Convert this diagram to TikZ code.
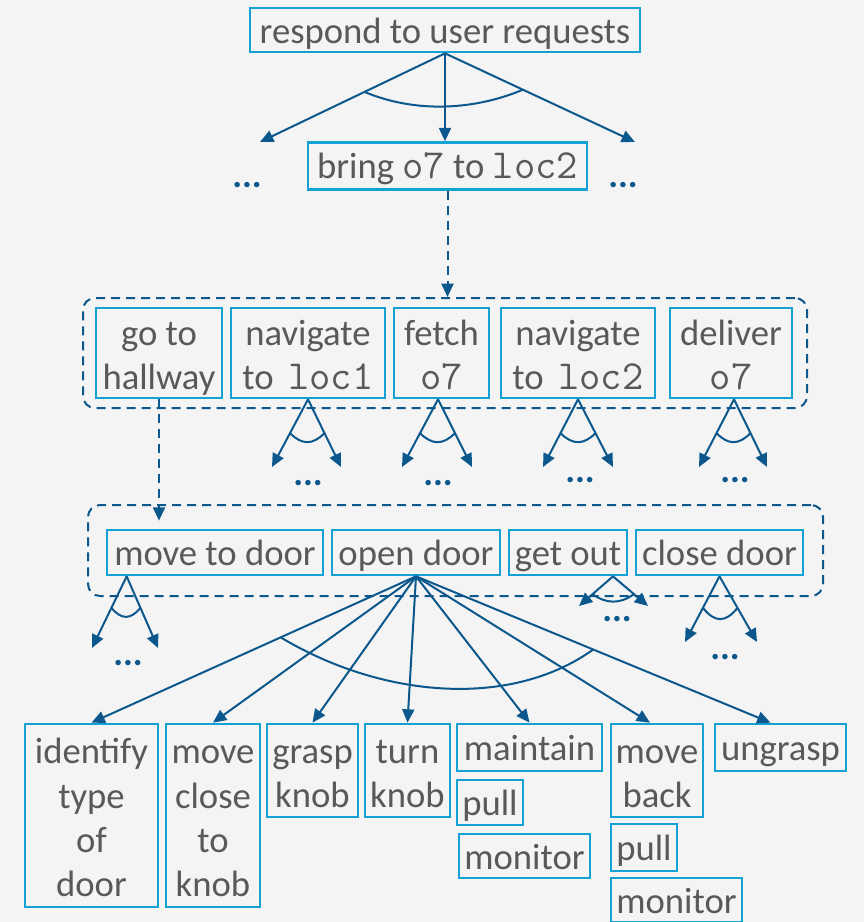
\documentclass[tikz,border=0pt]{standalone}
\usepackage{fontspec}
\setmainfont{Carlito}
\usetikzlibrary{arrows.meta}
\usetikzlibrary{calc}
\definecolor{boxblue}{RGB}{20,162,212}
\definecolor{linkblue}{RGB}{12,88,140}
\definecolor{txtgray}{RGB}{89,89,89}
\definecolor{bggray}{RGB}{244,244,244}
\newcommand{\tstrut}{\rule[-4.5pt]{0pt}{28.5pt}}
\newcommand{\hstrut}{\rule{0pt}{26.5pt}}
\newcommand{\code}[1]{{\fontsize{31}{33.2}\selectfont\ttfamily #1}}

\begin{document}
\begin{tikzpicture}[x=0.75pt,y=0.75pt,yscale=-1,xscale=1,
  task/.style={draw=boxblue, line width=2pt, inner sep=0pt, align=center, text=txtgray,
    font=\fontsize{27.5}{33.2}\selectfont, execute at begin node=\tstrut, execute at end node=\tstrut},
  group/.style={draw=linkblue, line width=1.5pt, dash pattern=on 6.75pt off 4.5pt, rounded corners=9pt, inner sep=0pt},
  link/.style={draw=linkblue, line width=1.5pt, -{Triangle[length=10pt,width=9pt]}},
  dlink/.style={link, dash pattern=on 6.75pt off 4.5pt},
  andarc/.style={draw=linkblue, line width=1.5pt},
  more/.style={text=linkblue, inner sep=0pt, font=\fontsize{27.5}{33.2}\selectfont\bfseries}]
\path[use as bounding box, fill=bggray] (0,0) rectangle (864,922);

%Shape: Rectangle [top]
\node[task, minimum width=292.5pt, minimum height=33pt] (resp) at (445,30) {respond to user requests};
\node[task, minimum width=209.25pt, minimum height=35.25pt] (bring) at (447.5,166) {bring \code{o7} to \code{loc2}};

%Shape: Rectangle [dashed groups]
\node[group, minimum width=543pt, minimum height=82.5pt] (grpA) at (445,353) {};
\node[group, minimum width=551.25pt, minimum height=68.25pt] (grpB) at (455.5,550.5) {};

%Shape: Rectangle [first method]
\node[task, minimum width=94.5pt, minimum height=67.5pt] (hall) at (159,353) {\hstrut go to\\hallway};
\node[task, minimum width=115.5pt, minimum height=67.5pt] (nav1) at (308,353) {\hstrut navigate\\to\hspace{0.4em}\code{loc1}};
\node[task, minimum width=71.25pt, minimum height=67.5pt] (fetch) at (441.5,353) {\hstrut fetch\\\code{o7}};
\node[task, minimum width=115.5pt, minimum height=67.5pt] (nav2) at (578,353) {\hstrut navigate\\to\hspace{0.4em}\code{loc2}};
\node[task, minimum width=91.5pt, minimum height=67.5pt] (deliv) at (731,353) {\hstrut deliver\\\code{o7}};

%Shape: Rectangle [second method]
\node[task, minimum width=162pt, minimum height=33.75pt] (mtd) at (215,552.5) {move to door};
\node[task, minimum width=126pt, minimum height=33.75pt] (opd) at (416,552.5) {open door};
\node[task, minimum width=88.5pt, minimum height=33.75pt] (gout) at (568,552.5) {get out};
\node[task, minimum width=125.25pt, minimum height=33.75pt] (cld) at (719.5,552.5) {close door};

%Shape: Rectangle [third method]
\node[task, minimum width=99.75pt, minimum height=137.25pt] (ident) at (91.5,815.5) {\hstrut identify\\type\\of\\door};
\node[task, minimum width=70.5pt, minimum height=137.25pt] (mclose) at (213,815.5) {\hstrut move\\close\\to\\knob};
\node[task, minimum width=68.25pt, minimum height=69.75pt] (grasp) at (312.5,770.5) {\hstrut grasp\\knob};
\node[task, minimum width=63.75pt, minimum height=69.75pt] (turn) at (407.5,770.5) {\hstrut turn\\knob};
\node[task, minimum width=108.75pt, minimum height=35.25pt] (maint) at (529.5,747.5) {maintain};
\node[task, minimum width=49.5pt, minimum height=33.75pt] (pullA) at (490,802.5) {pull};
\node[task, minimum width=98.25pt, minimum height=33pt] (monA) at (524.5,856) {monitor};
\node[task, minimum width=69pt, minimum height=69.75pt] (mback) at (657,770.5) {\hstrut move\\back};
\node[task, minimum width=49.5pt, minimum height=35.25pt] (pullB) at (644,847.5) {pull};
\node[task, minimum width=98.25pt, minimum height=33pt] (monB) at (676.5,900) {monitor};
\node[task, minimum width=98.25pt, minimum height=35.25pt] (ungr) at (780.5,747.5) {ungrasp};

% Text Node [more subtasks]
\node[more] (dTL) at (247,185) {...};
\node[more] (dTR) at (623,185) {...};
\node[more] (dN1) at (308,483) {...};
\node[more] (dF) at (438,483) {...};
\node[more] (dN2) at (580,480) {...};
\node[more] (dD) at (735,480) {...};
\node[more] (dM) at (128,663) {...};
\node[more] (dG) at (617,619) {...};
\node[more] (dC) at (725,657) {...};

%Straight Lines [top fan]
\coordinate (tL) at (260,142);
\coordinate (tR) at (635,142);
\draw[link] (resp.south) -- (tL);
\draw[link] (resp.south) -- (resp.south |- bring.north);
\draw[link] (resp.south) -- (tR);
%Curve Lines
\draw[andarc] ($(resp.south)!0.435!(tL)$) .. controls +(50,21) and +(-50,21) .. ($(resp.south)!0.41!(tR)$);

%Straight Lines [refinements]
\draw[dlink] (bring.south) -- (bring.south |- grpA.north);
\draw[dlink, shorten >=6pt] (hall.south) -- (hall.south |- mtd.north);

%Straight Lines [first method fans]
\coordinate (n1L) at (272,467);
\coordinate (n1R) at (341,467);
\draw[link] (nav1.south) -- (n1L);
\draw[link] (nav1.south) -- (n1R);
\draw[andarc] ($(nav1.south)!0.5!(n1L)$) .. controls +(12,12) and +(-12,12) .. ($(nav1.south)!0.5!(n1R)$);
\coordinate (fL) at (402,467);
\coordinate (fR) at (472,467);
\draw[link] ([xshift=-2.6pt]fetch.south) -- (fL);
\draw[link] ([xshift=-2.6pt]fetch.south) -- (fR);
\draw[andarc] ($([xshift=-2.6pt]fetch.south)!0.5!(fL)$) .. controls +(12,12) and +(-12,12) .. ($([xshift=-2.6pt]fetch.south)!0.5!(fR)$);
\coordinate (n2L) at (543,467);
\coordinate (n2R) at (613,467);
\draw[link] (nav2.south) -- (n2L);
\draw[link] (nav2.south) -- (n2R);
\draw[andarc] ($(nav2.south)!0.5!(n2L)$) .. controls +(12,12) and +(-12,12) .. ($(nav2.south)!0.5!(n2R)$);
\coordinate (dlL) at (699,467);
\coordinate (dlR) at (767,467);
\draw[link] ([xshift=2.25pt]deliv.south) -- (dlL);
\draw[link] ([xshift=2.25pt]deliv.south) -- (dlR);
\draw[andarc] ($([xshift=2.25pt]deliv.south)!0.5!(dlL)$) .. controls +(12,12) and +(-12,12) .. ($([xshift=2.25pt]deliv.south)!0.5!(dlR)$);

%Straight Lines [second method fans]
\coordinate (mO) at ([xshift=15.75pt]mtd.south west);
\coordinate (mL) at (92,648);
\coordinate (mR) at (158,648);
\draw[link] (mO) -- (mL);
\draw[link] (mO) -- (mR);
\draw[andarc] ($(mO)!0.44!(mL)$) .. controls +(10,12) and +(-10,12) .. ($(mO)!0.44!(mR)$);
\coordinate (gO) at ([xshift=33.75pt]gout.south);
\coordinate (gL) at (579,606);
\coordinate (gR) at (648,606);
\draw[link] (gO) -- (gL);
\draw[link] (gO) -- (gR);
\draw[andarc] ($(gO)!0.6!(gL)$) .. controls +(14,10) and +(-14,10) .. ($(gO)!0.6!(gR)$);
\coordinate (cL) at (685,642);
\coordinate (cR) at (757,642);
\draw[link] (cld.south) -- (cL);
\draw[link] (cld.south) -- (cR);
\draw[andarc] ($(cld.south)!0.48!(cL)$) .. controls +(12,15) and +(-12,15) .. ($(cld.south)!0.48!(cR)$);

%Straight Lines [open door]
\draw[link] (opd.south) -- (ident.north);
\draw[link] (opd.south) -- (mclose.north);
\draw[link] (opd.south) -- (grasp.north);
\draw[link] (opd.south) -- (turn.north);
\draw[link] (opd.south) -- (maint.north);
\draw[link] (opd.south) -- ([xshift=-5.25pt]mback.north);
\draw[link] (opd.south) -- ([xshift=-7.5pt]ungr.north);
%Curve Lines
\draw[andarc] ($(opd.south)!0.417!(ident.north)$) .. controls +(100,60) and +(-84,60) .. ($(opd.south)!0.5!([xshift=-7.5pt]ungr.north)$);

\end{tikzpicture}
\end{document}
